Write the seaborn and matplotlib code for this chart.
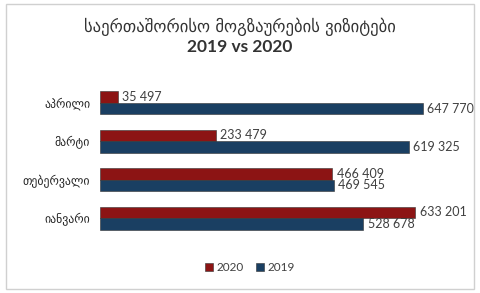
import matplotlib
matplotlib.use("Agg")
import matplotlib.pyplot as plt
import seaborn as sns
import pandas as pd
from matplotlib.patches import Rectangle

months = ["აპრილი", "მარტი", "თებერვალი", "იანვარი"]
values_2020 = [35497, 233479, 466409, 633201]
values_2019 = [647770, 619325, 469545, 528678]
series = ["2020", "2019"]
colors = {"2020": "#A00000", "2019": "#0E3F6E"}

df = pd.DataFrame({
    "month": months * 2,
    "value": values_2020 + values_2019,
    "year": ["2020"] * len(months) + ["2019"] * len(months),
})

sns.set_theme(style="white")
plt.rcParams["font.family"] = ["Lato", "DejaVu Sans"]

fig = plt.figure(figsize=(4.8, 2.93), dpi=100)
ax = fig.add_axes([0.208, 0.19, 0.727, 0.525])

sns.barplot(data=df, x="value", y="month", hue="year", order=months,
            hue_order=series, palette=colors, orient="h", width=0.6,
            edgecolor="#333333", linewidth=0.4, ax=ax, legend=True)

ax.set_xlim(0, 700000)
ax.set_xlabel("")
ax.set_ylabel("")
ax.set_xticks([])
for s in ax.spines.values():
    s.set_visible(False)
ax.tick_params(axis="y", length=0, pad=7, labelsize=8.5, labelcolor="#222222")
for t in ax.get_yticklabels():
    t.set_family(["DejaVu Sans"])

def fmt(v):
    return f"{v:,}".replace(",", " ")

for cont, vals in zip(ax.containers, [values_2020, values_2019]):
    ax.bar_label(cont, labels=[fmt(v) for v in vals], padding=3,
                 fontsize=9, color="#404040")

leg = ax.legend(loc="upper center", bbox_to_anchor=(0.43, -0.09), ncol=2,
                frameon=False, fontsize=8.5, handlelength=0.7, handleheight=0.7,
                handletextpad=0.3, columnspacing=1.0)
for t in leg.get_texts():
    t.set_color("#404040")

fig.text(0.5, 0.91, "საერთაშორისო მოგზაურების ვიზიტები", ha="center", va="center",
         fontsize=12, color="#333333", family=["DejaVu Sans"])
fig.text(0.5, 0.838, "2019 vs 2020", ha="center", va="center",
         fontsize=12.5, color="#333333", fontweight="bold")

fig.patches.append(Rectangle((0.012, 0.012), 0.976, 0.976, transform=fig.transFigure,
                             fill=False, edgecolor="#D0D0D0", linewidth=1.0))

fig.savefig("out.png", dpi=100)
